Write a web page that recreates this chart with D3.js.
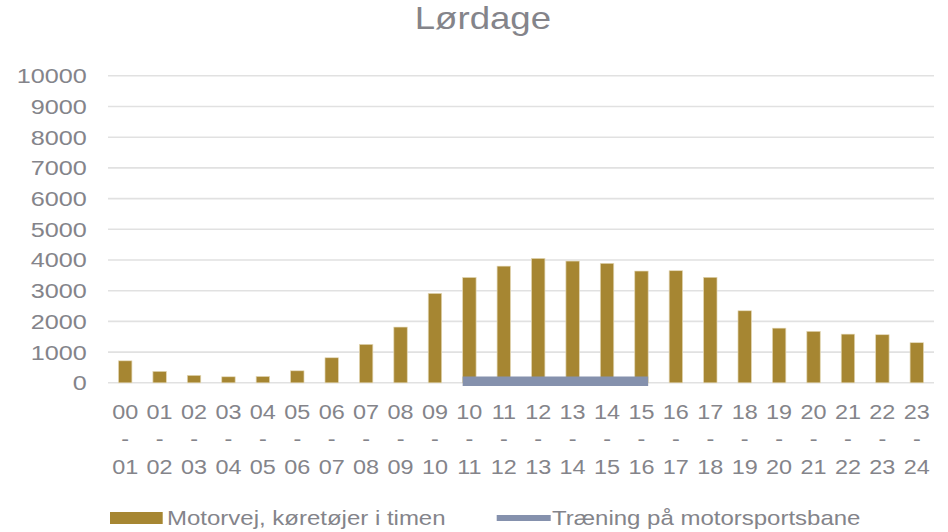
<!DOCTYPE html>
<html lang="da">
<head>
<meta charset="UTF-8">
<script src="https://d3js.org/d3.v7.min.js"></script>
<style>
    body { margin: 0; background: #fff; }
    text { font-family: "Liberation Sans", Arial, sans-serif; fill: #84848a; }
</style>
<title>Lørdage</title>
</head>
<body>
<div id="chart"></div>
<script>
    // chart data
    const hourFrom = ["00","01","02","03","04","05","06","07","08","09","10","11",
                      "12","13","14","15","16","17","18","19","20","21","22","23"];
    const hourTo = ["01","02","03","04","05","06","07","08","09","10","11","12",
                    "13","14","15","16","17","18","19","20","21","22","23","24"];
    const motorway = [715, 370, 240, 195, 205, 390, 815, 1250, 1815, 2910, 3430, 3800,
                      4050, 3965, 3890, 3640, 3650, 3435, 2345, 1780, 1675, 1585, 1565, 1305];
    const training = [null, null, null, null, null, null, null, null, null, null, 50, 50,
                      50, 50, 50, 50, null, null, null, null, null, null, null, null];
    const yTicks = [0, 1000, 2000, 3000, 4000, 5000, 6000, 7000, 8000, 9000, 10000];
    const seriesNames = ["Motorvej, køretøjer i timen", "Træning på motorsportsbane"];

    const categories = hourFrom.map((d, i) => d + "-" + hourTo[i]);

    // the original picture is stretched sideways, so draw in a narrower box and stretch it
    const W = 948, H = 532, SX = 1.2;
    const VW = W / SX;
    const brown = "#a68632", slate = "#8591ad";

    const svg = d3.select("#chart").append("svg")
        .attr("width", W)
        .attr("height", H)
        .attr("viewBox", `0 0 ${VW} ${H}`)
        .attr("preserveAspectRatio", "none");

    const plotLeft = 108 / SX, plotRight = 934 / SX, plotTop = 75.8, plotBottom = 382.8;

    const x = d3.scaleBand()
        .domain(categories)
        .range([plotLeft, plotRight])
        .paddingInner(0.61)
        .paddingOuter(0.305);

    const y = d3.scaleLinear()
        .domain([0, 10000])
        .range([plotBottom, plotTop]);

    // gridlines
    svg.append("g")
        .selectAll("line")
        .data(yTicks)
        .enter().append("line")
        .attr("x1", plotLeft)
        .attr("x2", plotRight)
        .attr("y1", d => y(d))
        .attr("y2", d => y(d))
        .attr("stroke", "#e1e1e1")
        .attr("stroke-width", 1.6);

    // y labels
    svg.append("g")
        .selectAll("text")
        .data(yTicks)
        .enter().append("text")
        .attr("x", 86.7 / SX)
        .attr("y", d => y(d) + 7.5)
        .attr("text-anchor", "end")
        .style("font-size", "21px")
        .text(d => d);

    // bars
    svg.append("g")
        .selectAll("rect")
        .data(motorway)
        .enter().append("rect")
        .attr("x", (d, i) => x(categories[i]))
        .attr("width", x.bandwidth())
        .attr("y", d => y(d))
        .attr("height", d => y(0) - y(d))
        .attr("fill", brown)
        .attr("stroke", "#e2d6b3")
        .attr("stroke-width", 0.6);

    // training line, from the left edge of the first bar to the right edge of the last
    const trainIdx = training.map((d, i) => d == null ? -1 : i).filter(i => i >= 0);
    const trainPts = trainIdx.map(i => [x(categories[i]) + x.bandwidth() / 2, y(training[i])]);
    trainPts[0][0] = x(categories[trainIdx[0]]);
    trainPts[trainPts.length - 1][0] = x(categories[trainIdx[trainIdx.length - 1]]) + x.bandwidth();
    svg.append("path")
        .attr("d", d3.line()(trainPts))
        .attr("fill", "none")
        .attr("stroke", slate)
        .attr("stroke-width", 9.3);

    // x labels, three lines each
    const xl = svg.append("g")
        .selectAll("g")
        .data(categories)
        .enter().append("g")
        .attr("transform", d => `translate(${x(d) + x.bandwidth() / 2},0)`);
    xl.append("text").attr("y", 419).attr("text-anchor", "middle")
        .style("font-size", "19.5px").text((d, i) => hourFrom[i]);
    xl.append("text").attr("y", 446.5).attr("text-anchor", "middle")
        .style("font-size", "19.5px").text("-");
    xl.append("text").attr("y", 474).attr("text-anchor", "middle")
        .style("font-size", "19.5px").text((d, i) => hourTo[i]);

    // title
    svg.append("text")
        .attr("x", 482.9 / SX)
        .attr("y", 29.5)
        .attr("text-anchor", "middle")
        .style("font-size", "30.5px")
        .text("Lørdage");

    // legend
    svg.append("rect")
        .attr("x", 110 / SX).attr("y", 512)
        .attr("width", 52.7 / SX).attr("height", 12)
        .attr("fill", brown);
    svg.append("text")
        .attr("x", 167 / SX).attr("y", 525)
        .style("font-size", "20px")
        .text(seriesNames[0]);
    svg.append("rect")
        .attr("x", 496.7 / SX).attr("y", 515)
        .attr("width", 54 / SX).attr("height", 6)
        .attr("fill", slate);
    svg.append("text")
        .attr("x", 552 / SX).attr("y", 525)
        .style("font-size", "20px")
        .text(seriesNames[1]);
</script>
</body>
</html>
